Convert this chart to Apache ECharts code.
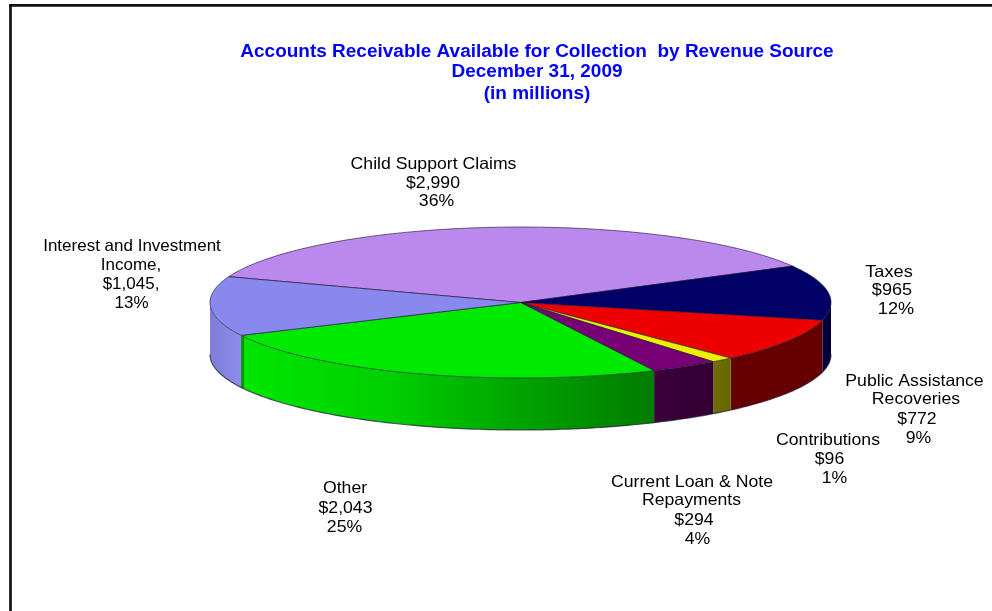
<!DOCTYPE html>
<html>
<head>
<meta charset="utf-8">
<style>html,body{margin:0;padding:0;background:#fff}#chart{width:992px;height:611px}</style>
<script src="https://cdn.jsdelivr.net/npm/echarts@6/dist/echarts.min.js"></script>
</head>
<body>
<div id="chart"></div>
<script>
// Receivables by revenue source, millions of dollars, clockwise from the upper left.
const categories = ['Child Support Claims', 'Taxes', 'Public Assistance Recoveries', 'Contributions',
  'Current Loan & Note Repayments', 'Other', 'Interest and Investment Income'];
const values = [2990, 965, 772, 96, 294, 2043, 1045];
const percentLabels = ['36%', '12%', '9%', '1%', '4%', '25%', '13%'];
const nameLines = [['Child Support Claims'], ['Taxes'], ['Public Assistance', 'Recoveries'], ['Contributions'],
  ['Current Loan & Note', 'Repayments'], ['Other'], ['Interest and Investment', 'Income,']];
const amountLabels = ['$2,990', '$965', '$772', '$96', '$294', '$2,043', '$1,045,'];
const titleLines = ['Accounts Receivable Available for Collection  by Revenue Source', 'December 31, 2009', '(in millions)'];

// Disc geometry and colours.
const disc = { cx: 520.5, cy: 302.5, rx: 310.5, ry: 75.5, depth: 52, startDeg: -160 };
const topColors = ['#BB88EE', '#000066', '#EE0000', '#EEEE00', '#770077', '#00EA00', '#8888EE'];
const sideStops = [
  [[0, '#4A2F66'], [1, '#4A2F66']],
  [[0, '#000040'], [1, '#000033']],
  [[0, '#660000'], [1, '#660000']],
  [[0, '#6E6E00'], [1, '#666600']],
  [[0, '#3A003A'], [1, '#330033']],
  [[0, '#009000'], [0.006, '#009000'], [0.008, '#00E600'], [0.35, '#00D000'], [0.7, '#00A000'], [1, '#007C00']],
  [[0, '#7E7ED8'], [1, '#8C8CEC']]
];
// Centre of every text line on the page, per category, in reading order.
const linePlacement = [
  [[433.5, 164], [433, 183], [436.5, 201]],
  [[889, 272], [892, 290], [896, 309]],
  [[914.5, 381], [916, 399], [917, 419], [918.5, 438]],
  [[828, 440], [829.5, 459], [834.5, 478]],
  [[692, 482], [691.5, 500], [694, 520], [697.5, 539]],
  [[345, 488], [345.5, 508], [344.5, 527]],
  [[132, 246], [131, 265], [131, 284], [131.5, 303]]
];
const labelStretch = [1.07, 1.1, 1.07, 1.07, 1.07, 1.07, 1.03];
const titlePlacement = [[537, 52], [537, 72], [537, 94]];
const labelFont = '16.5px "Liberation Sans", Arial, sans-serif';
const titleFont = 'bold 17.5px "Liberation Sans", Arial, sans-serif';

const total = values.reduce((a, b) => a + b, 0);
const rad = d => d * Math.PI / 180;
const onRim = (deg, drop) => [
  disc.cx + disc.rx * Math.cos(rad(deg)),
  disc.cy + disc.ry * Math.sin(rad(deg)) + drop
];
function arcPoints(a, b, drop) {
  const n = Math.max(2, Math.ceil(Math.abs(b - a)));
  const pts = [];
  for (let i = 0; i <= n; i++) pts.push(onRim(a + (b - a) * i / n, drop));
  return pts;
}
const edge = 'rgba(30,20,50,0.7)';

function sliceAngles(index) {
  let before = 0;
  for (let i = 0; i < index; i++) before += values[i];
  const a = disc.startDeg + before / total * 360;
  return [a, a + values[index] / total * 360];
}

// Only the part of the rim between 0 and 180 degrees faces the viewer.
function renderSide(params) {
  const [a, b] = sliceAngles(params.dataIndex);
  const from = Math.max(a, 0), to = Math.min(b, 180);
  if (to <= from) return { type: 'group', children: [] };
  const upper = arcPoints(from, to, 0);
  const lower = arcPoints(from, to, disc.depth).reverse();
  return {
    type: 'polygon',
    shape: { points: upper.concat(lower) },
    style: {
      // Shading runs left to right across the face.
      fill: new echarts.graphic.LinearGradient(0, 0, 1, 0,
        sideStops[params.dataIndex].map(s => ({ offset: s[0], color: s[1] }))),
      stroke: null
    }
  };
}

function renderTop(params) {
  const [a, b] = sliceAngles(params.dataIndex);
  return {
    type: 'polygon',
    shape: { points: [[disc.cx, disc.cy]].concat(arcPoints(a, b, 0)) },
    style: { fill: topColors[params.dataIndex], stroke: edge, lineWidth: 0.9 }
  };
}

function renderOutline() {
  return {
    type: 'polyline',
    shape: { points: arcPoints(0, 180, disc.depth) },
    style: { fill: null, stroke: edge, lineWidth: 1.2 }
  };
}

function textLine(text, at, font, fill, stretch) {
  return {
    type: 'text',
    x: at[0],
    y: at[1],
    scaleX: stretch,
    style: { text, font, fill, align: 'center', verticalAlign: 'middle' }
  };
}

const labelItems = categories.flatMap((name, i) =>
  nameLines[i].concat([amountLabels[i], percentLabels[i]]).map((line, j) =>
    textLine(line, linePlacement[i][j], labelFont, '#000', labelStretch[i])));

const titleItems = titleLines.map((line, i) =>
  textLine(line, titlePlacement[i], titleFont, '#0000FF', 1.085));

const frame = [
  { type: 'line', shape: { x1: 10.5, y1: 611, x2: 10.5, y2: 4 }, style: { stroke: '#111', lineWidth: 2.7 } },
  { type: 'line', shape: { x1: 9, y1: 5.3, x2: 992, y2: 5.3 }, style: { stroke: '#111', lineWidth: 2.7 } }
];

const chart = echarts.init(document.getElementById('chart'), null, { renderer: 'canvas' });
chart.setOption({
  animation: false,
  backgroundColor: '#fff',
  graphic: frame.concat(titleItems, labelItems),
  series: [
    { type: 'custom', name: 'rim', coordinateSystem: 'none', data: values, renderItem: renderSide, z: 1, silent: true },
    { type: 'custom', name: 'rim edge', coordinateSystem: 'none', data: [total], renderItem: renderOutline, z: 2, silent: true },
    { type: 'custom', name: 'top', coordinateSystem: 'none', data: values, renderItem: renderTop, z: 3, silent: true }
  ]
});
</script>
</body>
</html>
